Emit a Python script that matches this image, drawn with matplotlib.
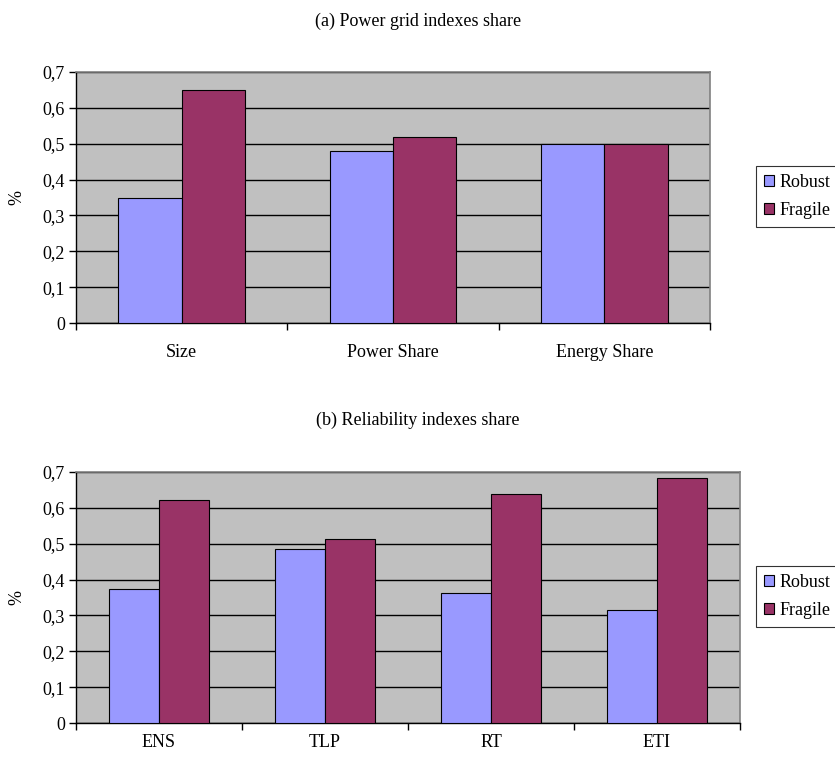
import numpy as np
import matplotlib
matplotlib.use("Agg")
import matplotlib.pyplot as plt
from matplotlib.ticker import FixedLocator, FuncFormatter

plt.rcParams["font.family"] = ["Liberation Serif", "DejaVu Serif"]

# ── Data ──────────────────────────────────────────────────────────────────────
grid_cats = ["Size", "Power Share", "Energy Share"]
grid_robust = [0.35, 0.48, 0.50]
grid_fragile = [0.65, 0.52, 0.50]

rel_cats = ["ENS", "TLP", "RT", "ETI"]
rel_robust = [0.375, 0.485, 0.363, 0.316]
rel_fragile = [0.622, 0.512, 0.638, 0.684]

C_ROBUST = "#9999FF"
C_FRAGILE = "#993366"
BG = "#C0C0C0"
FS = 13

fig = plt.figure(figsize=(8.35, 7.6), dpi=100)
W, H = 835, 760


def add_ax(left, top, right, bottom):
    return fig.add_axes([left / W, 1 - bottom / H, (right - left) / W, (bottom - top) / H])


def draw(ax, cats, robust, fragile, title, title_y, xpad, legend_box):
    n = len(cats)
    x = np.arange(n)
    bw = 0.3
    ax.set_facecolor(BG)
    ax.bar(x - bw / 2, robust, bw, color=C_ROBUST, edgecolor="black", linewidth=0.8,
           label="Robust", zorder=3)
    ax.bar(x + bw / 2, fragile, bw, color=C_FRAGILE, edgecolor="black", linewidth=0.8,
           label="Fragile", zorder=3)
    ax.set_xlim(-0.5, n - 0.5)
    ax.set_ylim(0, 0.7)
    ax.set_yticks(np.arange(0, 0.71, 0.1))
    ax.yaxis.set_major_formatter(FuncFormatter(
        lambda v, p: "0" if abs(v) < 1e-9 else f"{v:.1f}".replace(".", ",")))
    ax.grid(axis="y", color="black", linewidth=1.0, zorder=1)
    ax.set_axisbelow(True)

    ax.set_xticks(x)
    ax.set_xticklabels(cats)
    ax.xaxis.set_minor_locator(FixedLocator(np.arange(-0.5, n, 1.0)))
    ax.tick_params(axis="x", which="major", length=0, pad=xpad, labelsize=FS)
    ax.tick_params(axis="x", which="minor", length=5, direction="out", width=1)
    ax.tick_params(axis="y", length=5, direction="out", width=1, labelsize=FS, pad=3)

    for s in ("top", "right"):
        ax.spines[s].set_color("#808080")
        ax.spines[s].set_linewidth(1.2)
    for s in ("left", "bottom"):
        ax.spines[s].set_color("black")
        ax.spines[s].set_linewidth(1.0)

    ax.set_ylabel("%", fontsize=FS, labelpad=12)
    fig.text(418 / W, 1 - title_y / H, title, fontsize=FS, ha="center", va="center")

    leg = fig.legend(*ax.get_legend_handles_labels(), loc="upper left",
                     bbox_to_anchor=legend_box, bbox_transform=fig.transFigure,
                     fontsize=FS, frameon=True, fancybox=False, edgecolor="black",
                     handlelength=0.55, handleheight=0.55, handletextpad=0.3,
                     borderpad=0.45, labelspacing=0.6, borderaxespad=0)
    leg.get_frame().set_linewidth(0.8)
    for h in leg.legend_handles:
        h.set_linewidth(0.8)


ax1 = add_ax(76, 72, 710, 323)
draw(ax1, grid_cats, grid_robust, grid_fragile, "(a) Power grid indexes share",
     21, 15, (756 / W, 1 - 166 / H))

ax2 = add_ax(76, 472, 740, 723)
draw(ax2, rel_cats, rel_robust, rel_fragile, "(b) Reliability indexes share",
     420, 8, (756 / W, 1 - 566 / H))

plt.savefig("out.png", dpi=100)
